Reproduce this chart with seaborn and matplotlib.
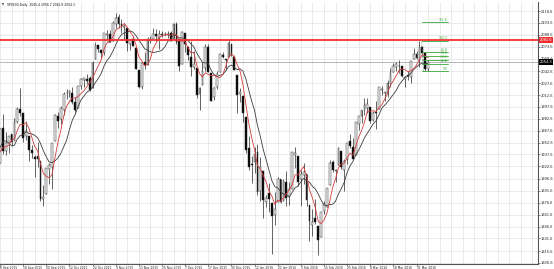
import numpy as np
import pandas as pd
import matplotlib
matplotlib.use("Agg")
import matplotlib.pyplot as plt
import matplotlib.transforms as mtransforms
import seaborn as sns

# ---------------- data ----------------
# CFD feed: trades on Thanksgiving, MLK day and Presidents' day
holidays = ["2015-09-07", "2015-12-25", "2016-01-01", "2016-03-25"]
first_day, last_day = "2015-08-25", "2016-04-06"
n_pre = 9  # bars before 8 Sep 2015 (only feed the moving averages)

opens = [
    1898.1, 1872.8, 1942.8, 1986.1, 1986.7, 1970.1, 1916.5, 1950.8, 1947.8,
    1927.3, 1971.5, 1941.6, 1951.5, 1963.1, 1955.1, 1978.0, 1995.3, 1989.7, 1960.8, 1961.4, 1943.2, 1934.8, 1935.9, 1929.2, 1881.9, 1887.1,
    1919.7, 1921.8, 1954.3, 1986.6, 1982.3, 1994.0, 2014.9, 2015.7, 2015.0, 2003.7, 1996.5, 2024.4, 2031.7, 2033.1, 2033.5, 2021.9, 2058.2, 2075.1, 2068.8, 2066.5, 2088.4, 2090.0,
    2080.8, 2102.6, 2110.6, 2101.7, 2098.6, 2096.6, 2077.2, 2083.4, 2072.3, 2044.6, 2022.1, 2053.7, 2051.0, 2083.7, 2082.8, 2089.4, 2084.4, 2089.3, 2089.0, 2088.8, 2090.9,
    2082.9, 2101.7, 2080.7, 2051.2, 2090.4, 2073.4, 2061.2, 2047.9, 2047.3, 2013.4, 2025.6, 2046.5, 2073.8, 2040.8, 2010.3, 2023.2, 2042.2, 2063.5, 2057.8, 2060.5, 2077.3, 2060.6,
    2038.2, 2013.8, 2011.7, 1985.3, 1946.0, 1926.1, 1927.8, 1940.3, 1891.7, 1916.7, 1878.0, 1888.7, 1876.2, 1861.5, 1877.4, 1906.3, 1878.8, 1902.5, 1885.2, 1894.0,
    1936.9, 1935.3, 1907.1, 1911.7, 1913.1, 1873.3, 1848.5, 1857.1, 1847.0, 1833.4, 1866.0, 1871.4, 1898.8, 1927.6, 1916.7, 1924.4, 1942.4, 1917.6, 1931.9, 1955.0, 1947.1,
    1937.1, 1976.6, 1985.6, 1994.0, 1996.1, 1996.9, 1981.4, 1991.0, 1994.7, 2019.3, 2015.3, 2014.2, 2026.9, 2041.2, 2047.9, 2048.6, 2048.6, 2032.5, 2037.9, 2035.8, 2058.3, 2063.8,
    2056.6, 2073.2, 2066.0, 2045.4,
]
highs = [
    1948.0, 1943.1, 1989.6, 1993.5, 1986.7, 1970.1, 1948.9, 1975.0, 1947.8,
    1970.4, 1988.6, 1965.3, 1961.1, 1963.1, 1983.2, 1997.3, 2020.9, 1989.7, 1979.6, 1961.4, 1949.5, 1937.2, 1952.9, 1929.2, 1899.5, 1920.5,
    1927.2, 1951.4, 1989.2, 1991.6, 1999.3, 2016.5, 2020.1, 2018.7, 2022.3, 2009.6, 2024.2, 2033.5, 2034.5, 2039.1, 2037.0, 2055.2, 2079.7, 2075.1, 2070.4, 2090.4, 2094.3, 2094.3,
    2106.2, 2116.5, 2114.6, 2108.8, 2101.9, 2096.6, 2083.7, 2086.9, 2072.3, 2044.6, 2053.2, 2066.7, 2085.3, 2086.7, 2097.1, 2095.6, 2094.1, 2093.0, 2092.2, 2093.3, 2093.8,
    2103.4, 2104.3, 2085.0, 2093.8, 2090.4, 2073.9, 2080.3, 2067.7, 2047.3, 2022.9, 2053.9, 2076.7, 2076.4, 2040.8, 2022.9, 2042.7, 2064.7, 2067.4, 2057.8, 2081.6, 2077.3, 2062.5,
    2038.2, 2021.9, 2011.7, 1985.3, 1960.4, 1935.7, 1947.4, 1950.3, 1934.5, 1916.7, 1887.0, 1901.4, 1876.2, 1889.9, 1908.9, 1906.3, 1906.7, 1917.0, 1903.0, 1940.2,
    1947.2, 1935.3, 1918.0, 1927.4, 1913.1, 1873.3, 1868.3, 1881.6, 1847.0, 1864.8, 1879.0, 1895.8, 1930.7, 1930.0, 1918.8, 1946.7, 1942.4, 1932.1, 1951.8, 1963.0, 1958.3,
    1978.4, 1986.5, 1993.7, 2009.1, 2008.3, 1996.9, 1992.7, 2005.1, 2022.4, 2024.6, 2015.9, 2032.0, 2046.2, 2052.4, 2053.9, 2056.6, 2048.6, 2036.0, 2042.7, 2055.9, 2072.2, 2067.9,
    2080.2, 2074.0, 2066.0, 2056.7,
]
lows = [
    1867.1, 1872.8, 1942.8, 1975.2, 1966.0, 1903.1, 1916.5, 1944.7, 1911.2,
    1927.3, 1937.9, 1937.2, 1939.2, 1948.3, 1954.3, 1977.9, 1986.7, 1953.5, 1955.8, 1929.2, 1932.6, 1908.9, 1921.5, 1879.2, 1871.9, 1887.1,
    1900.7, 1893.7, 1954.3, 1971.2, 1976.4, 1987.5, 2007.6, 2010.2, 2001.8, 1990.7, 1996.5, 2020.5, 2022.3, 2026.6, 2017.2, 2021.9, 2058.2, 2066.5, 2058.8, 2063.1, 2081.3, 2079.3,
    2080.8, 2097.5, 2097.0, 2090.4, 2083.7, 2068.2, 2069.9, 2074.9, 2045.7, 2022.0, 2019.9, 2045.9, 2051.0, 2078.8, 2082.8, 2081.4, 2070.3, 2086.3, 2086.5, 2084.1, 2080.4,
    2082.9, 2077.1, 2042.4, 2051.2, 2066.8, 2056.8, 2036.5, 2045.7, 2008.8, 1993.3, 2025.6, 2042.4, 2041.7, 2005.3, 2005.9, 2020.5, 2042.2, 2058.7, 2044.2, 2060.5, 2062.0, 2043.6,
    1989.7, 2004.2, 1979.1, 1938.8, 1918.5, 1901.1, 1914.4, 1886.3, 1878.9, 1857.8, 1871.0, 1864.6, 1812.3, 1849.0, 1877.4, 1876.0, 1878.8, 1872.7, 1873.7, 1894.0,
    1920.3, 1897.3, 1872.2, 1900.5, 1872.7, 1828.5, 1834.9, 1850.3, 1810.1, 1833.4, 1862.0, 1871.4, 1898.8, 1915.1, 1902.2, 1924.4, 1919.4, 1891.0, 1925.4, 1945.8, 1931.8,
    1937.1, 1968.8, 1977.4, 1986.8, 1989.3, 1977.4, 1979.8, 1969.2, 1994.7, 2012.1, 2005.2, 2010.0, 2022.2, 2041.2, 2043.1, 2040.6, 2034.9, 2022.5, 2032.0, 2028.3, 2058.3, 2057.5,
    2048.0, 2062.6, 2042.9, 2042.8,
]
closes = [
    1867.6, 1940.5, 1987.7, 1988.9, 1972.2, 1913.9, 1948.9, 1951.1, 1921.2,
    1969.4, 1942.0, 1952.3, 1961.1, 1953.0, 1978.1, 1995.3, 1990.2, 1958.0, 1966.9, 1942.7, 1938.8, 1932.2, 1931.3, 1881.8, 1884.1, 1920.0,
    1923.8, 1951.4, 1987.1, 1979.9, 1995.8, 2013.4, 2014.9, 2017.5, 2003.7, 1994.2, 2023.9, 2033.1, 2033.7, 2030.8, 2018.9, 2052.5, 2075.2, 2071.2, 2065.9, 2090.4, 2089.4, 2079.4,
    2104.1, 2109.8, 2102.3, 2099.9, 2099.2, 2078.6, 2081.7, 2075.0, 2046.0, 2023.0, 2053.2, 2050.4, 2083.6, 2081.2, 2089.2, 2086.6, 2089.1, 2088.9, 2089.8, 2090.1, 2080.4,
    2102.6, 2079.5, 2049.6, 2091.7, 2077.1, 2063.6, 2047.6, 2052.2, 2012.4, 2021.9, 2043.4, 2073.1, 2041.9, 2005.6, 2021.2, 2039.0, 2064.3, 2061.0, 2056.5, 2078.4, 2063.4, 2043.9,
    2012.7, 2016.7, 1990.3, 1943.1, 1922.0, 1923.7, 1938.7, 1890.3, 1921.8, 1880.3, 1883.0, 1881.3, 1859.3, 1869.0, 1906.9, 1877.1, 1903.6, 1883.0, 1893.4, 1940.2,
    1939.4, 1903.0, 1912.5, 1915.5, 1880.1, 1853.4, 1852.2, 1851.9, 1829.1, 1864.8, 1875.0, 1895.6, 1926.8, 1917.8, 1917.8, 1945.5, 1921.3, 1929.8, 1951.7, 1948.1, 1932.2,
    1978.4, 1986.5, 1993.4, 2000.0, 2001.8, 1979.3, 1989.3, 1989.6, 2022.2, 2019.6, 2015.9, 2027.2, 2040.6, 2049.6, 2051.6, 2049.8, 2036.7, 2035.9, 2037.1, 2055.0, 2064.0, 2059.7,
    2072.8, 2066.1, 2045.2, 2054.3,
]

date_labels = ["8 Sep 2015", "18 Sep 2015", "30 Sep 2015", "12 Oct 2015", "22 Oct 2015",
               "3 Nov 2015", "13 Nov 2015", "25 Nov 2015", "7 Dec 2015", "17 Dec 2015",
               "30 Dec 2015", "12 Jan 2016", "22 Jan 2016", "3 Feb 2016", "15 Feb 2016",
               "25 Feb 2016", "8 Mar 2016", "18 Mar 2016", "31 Mar 2016"]
price_ticks = [2118.6, 2103.6, 2088.6, 2073.6, 2058.6, 2042.6, 2027.6, 2012.6, 1997.6,
               1982.6, 1967.6, 1952.6, 1937.6, 1922.6, 1906.6, 1891.6, 1876.6, 1861.6,
               1846.6, 1831.6, 1815.6, 1800.6]

fast_period, slow_period = 5, 10
resistance = 2081.6
bid_price = 2054.3
fib_high, fib_low = 2081.0, 2042.8
fib_levels = [161.8, 100.0, 61.8, 50.0, 38.2, 23.6, 0.0]
header = "SPX500,Daily  2045.4 2056.7 2042.8 2054.3"

# ---------------- frame ----------------
days = pd.bdate_range(first_day, last_day, freq="C", holidays=holidays)
df = pd.DataFrame({"date": days, "open": opens, "high": highs, "low": lows, "close": closes})
df["idx"] = np.arange(len(df)) - n_pre
df["fast"] = df["close"].rolling(fast_period).mean()
df["slow"] = df["close"].rolling(slow_period).mean()
df["bull"] = df["close"] >= df["open"]

W, H = 554, 269
fig = plt.figure(figsize=(W / 100, H / 100), dpi=100)
sns.set_theme(style="white")
plt.rcParams["font.family"] = ["DejaVu Sans"]
ax = fig.add_axes([0, 5 / H, 538 / W, 262 / H])
ax.set_facecolor("white")

# grid (MT4 style: every 4 bars vertically, every price label horizontally)
label_idx = [int(df.index[df["date"] == pd.Timestamp(d)][0]) - n_pre
             for d in pd.to_datetime(date_labels, format="%d %b %Y")]
for gx in range(label_idx[0], 190, 4):
    ax.axvline(gx, color="#e2e2e2", lw=0.5, zorder=0)
for gy in price_ticks:
    ax.axhline(gy, color="#e2e2e2", lw=0.5, zorder=0)

# candles
ax.vlines(df["idx"], df["low"], df["high"], color="#3a3a3a", lw=0.55, zorder=2)
body_bottom = np.minimum(df["open"], df["close"])
body_h = np.maximum(np.abs(df["close"] - df["open"]), 0.4)
ax.bar(df["idx"], body_h, bottom=body_bottom, width=0.62,
       color=np.where(df["bull"], "#f4f4f4", "#000000"),
       edgecolor="#333333", linewidth=0.35, zorder=3)

# moving averages
sns.lineplot(data=df, x="idx", y="slow", ax=ax, color="#3c3c3c", lw=0.6, zorder=4)
sns.lineplot(data=df, x="idx", y="fast", ax=ax, color="#d23c3c", lw=0.6, zorder=5)

# resistance / bid lines
ax.axhline(resistance, color="#f03030", lw=1.3, zorder=6)
ax.axhline(bid_price, color="#9a9a9a", lw=0.5, zorder=1)

# fibonacci
peak = int(df.loc[df["high"].iloc[-6:].idxmax(), "idx"])
fx0, fx1 = peak + 0.8, peak + 10.0
for lv in fib_levels:
    p = fib_low + (fib_high - fib_low) * lv / 100
    ax.plot([fx0, fx1], [p, p], color="#3aa63a", lw=0.6, zorder=7)
    ax.text(fx1 - 0.2, p + 0.6, f"{lv:.1f}", fontsize=2.2, color="#3aa63a",
            ha="right", va="bottom", zorder=7)
ax.plot([fx0, fx0 + 0.6], [fib_high, fib_low], color="#707070", lw=0.5,
        ls=(0, (1, 1)), zorder=7)

# axes styling
ax.set_xlim(1.54, 186.0)
ax.set_ylim(1799.3, 2130.0)
ax.set_xlabel("")
ax.set_ylabel("")
ax.yaxis.tick_right()
ax.set_yticks(price_ticks)
ax.set_yticklabels([f"{v:.1f}" for v in price_ticks])
ax.set_xticks(label_idx)
ax.set_xticklabels(date_labels)
for t in ax.get_xticklabels():
    t.set_ha("left")
ax.tick_params(axis="y", labelsize=2.6, length=1.2, width=0.4, pad=1.0,
               colors="#222222", right=True, left=False)
ax.tick_params(axis="x", labelsize=2.2, length=1.2, width=0.4, pad=0.3,
               colors="#222222", bottom=True)
for s in ["top", "left"]:
    ax.spines[s].set_visible(False)
for s in ["right", "bottom"]:
    ax.spines[s].set_color("#555555")
    ax.spines[s].set_linewidth(0.8)
if ax.get_legend():
    ax.get_legend().remove()

# price boxes on the right scale
trans = mtransforms.blended_transform_factory(ax.transAxes, ax.transData)
ax.text(1.003, resistance, f"{resistance:.1f}", transform=trans, fontsize=2.6,
        color="white", va="center", ha="left", zorder=10, clip_on=False,
        bbox=dict(boxstyle="square,pad=0.3", fc="#f03030", ec="none"))
ax.text(1.003, bid_price, f"{bid_price:.1f}", transform=trans, fontsize=2.6,
        color="white", va="center", ha="left", zorder=10, clip_on=False,
        bbox=dict(boxstyle="square,pad=0.3", fc="#000000", ec="none"))

# header
fig.text(2 / W, 1 - 5 / H, "\u25BC", fontsize=2.0, color="#333333", va="center", ha="left")
fig.text(7 / W, 1 - 5 / H, header, fontsize=2.2, color="#111111", va="center", ha="left")

fig.savefig("out.png", dpi=100, facecolor="white")
